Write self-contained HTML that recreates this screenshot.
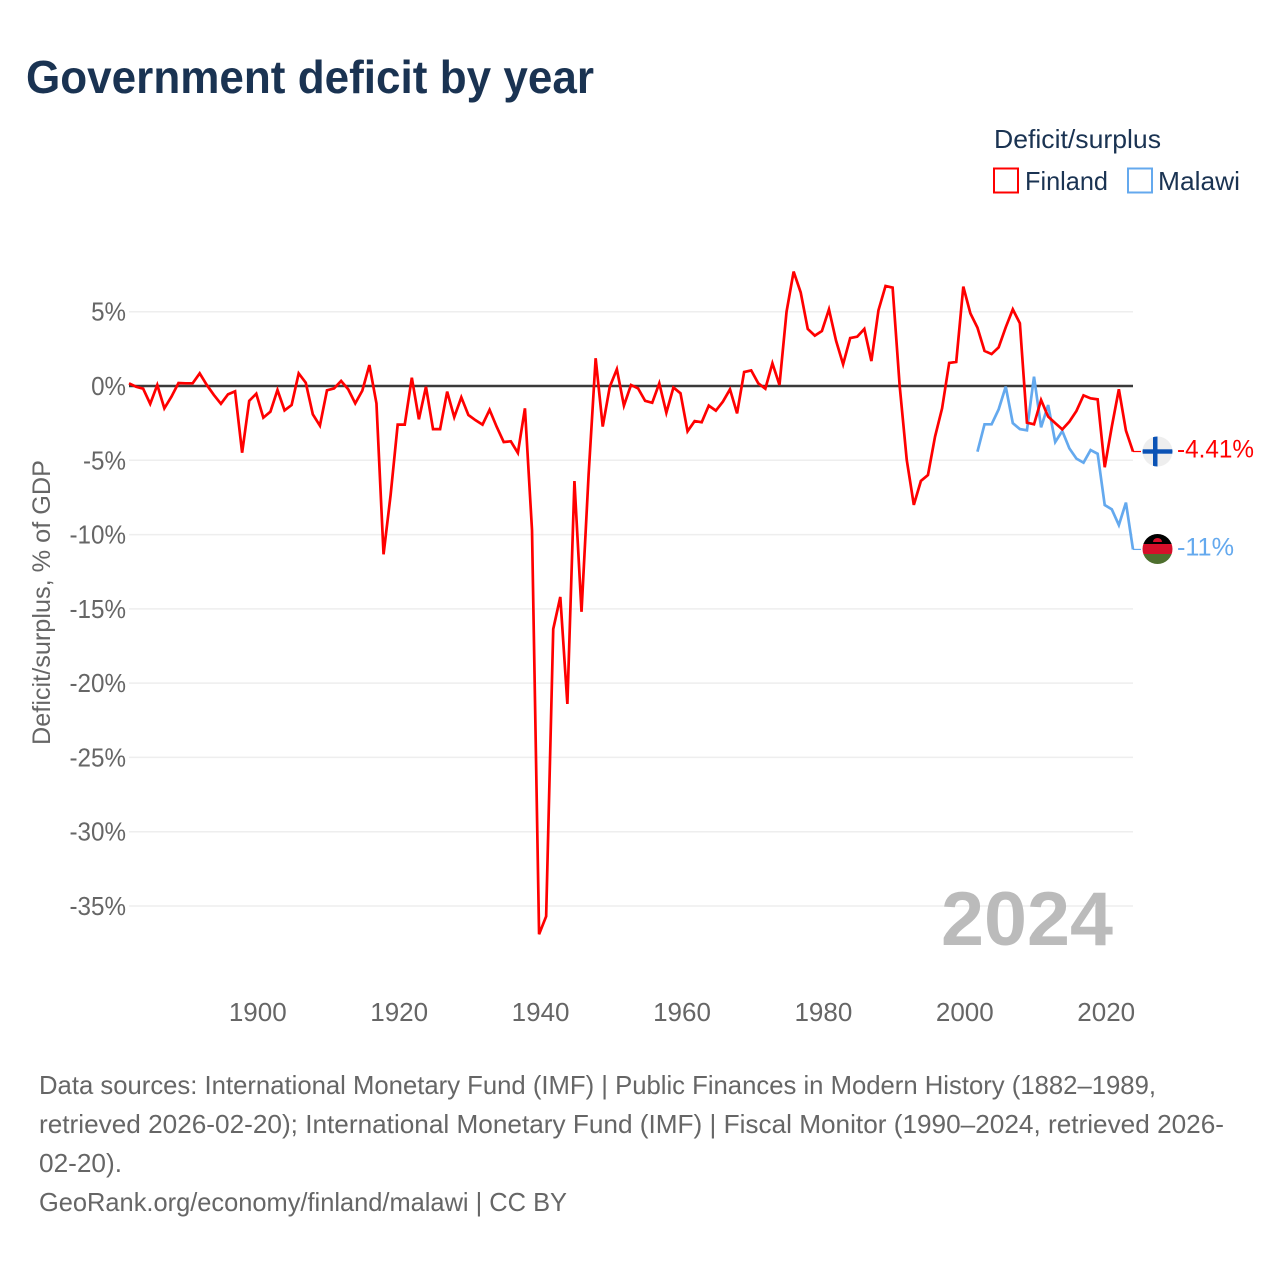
<!DOCTYPE html>
<html lang="en">
<head>
<meta charset="utf-8">
<title>Government deficit by year</title>
<style>
html,body{margin:0;padding:0;background:#fff;}
svg{display:block;font-family:"Liberation Sans",sans-serif;}
</style>
</head>
<body>
<svg id="chart" xmlns="http://www.w3.org/2000/svg" width="1280" height="1280" viewBox="0 0 1280 1280">
  <defs>
    <clipPath id="clip-fi"><circle cx="1157.5" cy="451.5" r="15"/></clipPath>
    <clipPath id="clip-mw"><circle cx="1157.5" cy="549" r="15"/></clipPath>
  </defs>
  <rect x="0" y="0" width="1280" height="1280" fill="#ffffff"/>
  <text x="26" y="93" font-size="46" font-weight="700" fill="#1a3352" textLength="568" lengthAdjust="spacingAndGlyphs">Government deficit by year</text>

  <g>
    <text x="994" y="148" font-size="26" fill="#1a3352" textLength="167" lengthAdjust="spacingAndGlyphs">Deficit/surplus</text>
    <rect x="994" y="168.5" width="24" height="24" fill="#fff" stroke="#ff0000" stroke-width="2"/>
    <text x="1025" y="190" font-size="26" fill="#1a3352" textLength="83" lengthAdjust="spacingAndGlyphs">Finland</text>
    <rect x="1128" y="168.5" width="24" height="24" fill="#fff" stroke="#64a9ee" stroke-width="2"/>
    <text x="1158" y="190" font-size="26" fill="#1a3352" textLength="82" lengthAdjust="spacingAndGlyphs">Malawi</text>
  </g>

  <g id="grid"></g>
  <g id="y-labels"></g>
  <g id="x-labels"></g>
  <text transform="translate(50,745) rotate(-90)" font-size="25" fill="#666666" textLength="285" lengthAdjust="spacingAndGlyphs">Deficit/surplus, % of GDP</text>

  <text x="941" y="945" font-size="76" font-weight="700" fill="#bbbbbb" textLength="172" lengthAdjust="spacingAndGlyphs">2024</text>

  <g id="series"></g>

  <g clip-path="url(#clip-fi)">
    <rect x="1142" y="436.5" width="31" height="30" fill="#eeeeee"/>
    <rect x="1153" y="436.5" width="4.5" height="30" fill="#0a52b5"/>
    <rect x="1142" y="449.3" width="31" height="4.4" fill="#0a52b5"/>
  </g>
  <g clip-path="url(#clip-mw)">
    <rect x="1142" y="534" width="31" height="10" fill="#000000"/>
    <rect x="1142" y="544" width="31" height="10" fill="#d70f2a"/>
    <rect x="1142" y="554" width="31" height="10" fill="#4e6f2e"/>
    <path d="M1153 542 a4.5 4 0 0 1 9 0 z" fill="#d70f2a"/>
  </g>

  <g id="end-labels"></g>

  <g font-size="26" fill="#666666">
    <text x="39" y="1094" textLength="1117" lengthAdjust="spacingAndGlyphs">Data sources: International Monetary Fund (IMF) | Public Finances in Modern History (1882–1989,</text>
    <text x="39" y="1133" textLength="1185" lengthAdjust="spacingAndGlyphs">retrieved 2026-02-20); International Monetary Fund (IMF) | Fiscal Monitor (1990–2024, retrieved 2026-</text>
    <text x="39" y="1172" textLength="83" lengthAdjust="spacingAndGlyphs">02-20).</text>
    <text x="39" y="1211" textLength="528" lengthAdjust="spacingAndGlyphs">GeoRank.org/economy/finland/malawi | CC BY</text>
  </g>
</svg>

<script>
const firstYear = 1882;
const lastYear = 2024;
const malawiFirstYear = 2002;
const yTickValues = [5, 0, -5, -10, -15, -20, -25, -30, -35];
const yTickLabels = ["5%", "0%", "-5%", "-10%", "-15%", "-20%", "-25%", "-30%", "-35%"];
const xTickValues = [1900, 1920, 1940, 1960, 1980, 2000, 2020];
const xTickLabels = ["1900", "1920", "1940", "1960", "1980", "2000", "2020"];
const finlandValues = [
  0.18, -0.05, -0.18, -1.2, 0.07, -1.5, -0.72, 0.2, 0.18, 0.18,
  0.85, 0.07, -0.6, -1.2, -0.56, -0.36, -4.49, -1.0, -0.52, -2.13,
  -1.73, -0.27, -1.64, -1.28, 0.85, 0.22, -1.91, -2.67, -0.29, -0.16,
  0.34, -0.22, -1.17, -0.31, 1.41, -1.17, -11.33, -7.34, -2.6, -2.6,
  0.56, -2.24, -0.05, -2.9, -2.9, -0.38, -2.1, -0.76, -1.95, -2.3,
  -2.6, -1.6, -2.74, -3.77, -3.72, -4.5, -1.5, -9.7, -36.9, -35.7,
  -16.36, -14.2, -21.4, -6.4, -15.2, -6.0, 1.87, -2.73, -0.05, 1.13,
  -1.32, 0.07, -0.16, -1.0, -1.13, 0.18, -1.8, -0.1, -0.49, -3.05,
  -2.36, -2.44, -1.32, -1.66, -1.05, -0.22, -1.84, 0.94, 1.05, 0.18,
  -0.18, 1.53, 0.07, 5.0, 7.7, 6.3, 3.84, 3.39, 3.7, 5.16,
  3.05, 1.46, 3.23, 3.32, 3.84, 1.68, 5.1, 6.73, 6.62, 0.0,
  -4.98, -8.0, -6.39, -5.99, -3.41, -1.5, 1.55, 1.62, 6.69, 4.89,
  3.93, 2.36, 2.15, 2.6, 3.95, 5.16, 4.22, -2.47, -2.58, -0.94,
  -2.06, -2.5, -2.92, -2.4, -1.68, -0.63, -0.83, -0.9, -5.47, -2.74,
  -0.22, -3.0, -4.41
];
const malawiValues = [
  -4.42, -2.58, -2.58, -1.57, -0.04, -2.5, -2.9, -2.98, 0.63, -2.78,
  -1.28, -3.77, -3.03, -4.2, -4.89, -5.16, -4.31, -4.56, -8.01, -8.3,
  -9.36, -7.85, -11.0
];
const finlandEndLabel = "-4.41%";
const malawiEndLabel = "-11%";

const NS = "http://www.w3.org/2000/svg";
function xScale(year) {
  return 129 + (year - firstYear) * (1133 - 129) / (lastYear - firstYear);
}
function yScale(value) {
  return 386 - value * 14.857;
}
function linePath(values, startYear) {
  return values.map(function (v, i) {
    return (i ? "L" : "M") + xScale(startYear + i).toFixed(2) + " " + yScale(v).toFixed(2);
  }).join(" ");
}

const grid = document.getElementById("grid");
const yLabels = document.getElementById("y-labels");
yTickValues.forEach(function (v, i) {
  const line = document.createElementNS(NS, "line");
  
  
  line.setAttribute("x1", 129);
  line.setAttribute("x2", 1133);
  line.setAttribute("y1", yScale(v));
  line.setAttribute("y2", yScale(v));
  line.setAttribute("stroke", "#eeeeee");
  line.setAttribute("stroke-width", "1.5");
  grid.appendChild(line);

  const label = document.createElementNS(NS, "text");
  
  
  label.setAttribute("x", 126);
  label.setAttribute("y", yScale(v) + 9);
  label.setAttribute("text-anchor", "end");
  label.setAttribute("font-size", "26");
  label.setAttribute("fill", "#666666");
  label.textContent = yTickLabels[i];
  yLabels.appendChild(label);
  label.setAttribute("textLength", (label.getComputedTextLength() * 0.93).toFixed(1));
  label.setAttribute("lengthAdjust", "spacingAndGlyphs");
});

const xLabels = document.getElementById("x-labels");
xTickValues.forEach(function (year, i) {
  const label = document.createElementNS(NS, "text");
  
  
  label.setAttribute("x", xScale(year) + 1.5);
  label.setAttribute("y", 1021);
  label.setAttribute("text-anchor", "middle");
  label.setAttribute("font-size", "26");
  label.setAttribute("fill", "#666666");
  label.textContent = xTickLabels[i];
  xLabels.appendChild(label);
});

const seriesGroup = document.getElementById("series");

const zeroLine = document.createElementNS(NS, "line");


zeroLine.setAttribute("x1", 129);
zeroLine.setAttribute("x2", 1133);
zeroLine.setAttribute("y1", yScale(0));
zeroLine.setAttribute("y2", yScale(0));
zeroLine.setAttribute("stroke", "#3a3a3a");
zeroLine.setAttribute("stroke-width", "2.6");
seriesGroup.appendChild(zeroLine);

const malawiLine = document.createElementNS(NS, "path");


malawiLine.setAttribute("d", linePath(malawiValues, malawiFirstYear));
malawiLine.setAttribute("fill", "none");
malawiLine.setAttribute("stroke", "#64a9ee");
malawiLine.setAttribute("stroke-width", "2.7");
malawiLine.setAttribute("stroke-linejoin", "miter");
seriesGroup.appendChild(malawiLine);

const finlandLine = document.createElementNS(NS, "path");


finlandLine.setAttribute("d", linePath(finlandValues, firstYear));
finlandLine.setAttribute("fill", "none");
finlandLine.setAttribute("stroke", "#ff0000");
finlandLine.setAttribute("stroke-width", "2.7");
finlandLine.setAttribute("stroke-linejoin", "miter");
seriesGroup.appendChild(finlandLine);

const endLabels = document.getElementById("end-labels");
const finalFinland = finlandValues[finlandValues.length - 1];
const finalMalawi = malawiValues[malawiValues.length - 1];

const finlandConnector = document.createElementNS(NS, "line");


finlandConnector.setAttribute("x1", xScale(lastYear));
finlandConnector.setAttribute("x2", xScale(lastYear) + 8);
finlandConnector.setAttribute("y1", yScale(finalFinland));
finlandConnector.setAttribute("y2", yScale(finalFinland));
finlandConnector.setAttribute("stroke", "#ff0000");
finlandConnector.setAttribute("stroke-width", "1.2");
endLabels.appendChild(finlandConnector);

const malawiConnector = document.createElementNS(NS, "line");


malawiConnector.setAttribute("x1", xScale(lastYear));
malawiConnector.setAttribute("x2", xScale(lastYear) + 8);
malawiConnector.setAttribute("y1", yScale(finalMalawi));
malawiConnector.setAttribute("y2", yScale(finalMalawi));
malawiConnector.setAttribute("stroke", "#64a9ee");
malawiConnector.setAttribute("stroke-width", "1.2");
endLabels.appendChild(malawiConnector);

const finlandLabel = document.createElementNS(NS, "text");


finlandLabel.setAttribute("x", 1177);
finlandLabel.setAttribute("y", yScale(finalFinland) + 6);
finlandLabel.setAttribute("font-size", "25");
finlandLabel.setAttribute("fill", "#ff0000");
finlandLabel.setAttribute("textLength", "77");
finlandLabel.setAttribute("lengthAdjust", "spacingAndGlyphs");
finlandLabel.textContent = finlandEndLabel;
endLabels.appendChild(finlandLabel);

const malawiLabel = document.createElementNS(NS, "text");


malawiLabel.setAttribute("x", 1177);
malawiLabel.setAttribute("y", yScale(finalMalawi) + 6);
malawiLabel.setAttribute("font-size", "25");
malawiLabel.setAttribute("fill", "#64a9ee");
malawiLabel.setAttribute("textLength", "57");
malawiLabel.setAttribute("lengthAdjust", "spacingAndGlyphs");
malawiLabel.textContent = malawiEndLabel;
endLabels.appendChild(malawiLabel);
</script>
</body>
</html>
